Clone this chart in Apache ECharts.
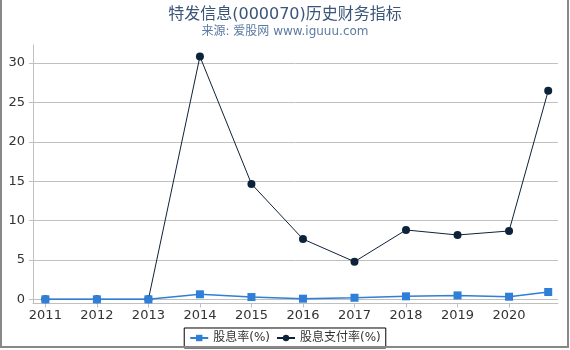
<!DOCTYPE html>
<html>
<head>
<meta charset="utf-8">
<script src="https://cdn.jsdelivr.net/npm/echarts@6/dist/echarts.min.js"></script>
<style>html,body{margin:0;padding:0;background:#fff}#c{width:570px;height:350px}</style>
</head>
<body>
<div id="c"></div>
<script>
var titleText = '特发信息(000070)历史财务指标';
var subText = '来源: 爱股网 www.iguuu.com';
var xValues = [2011, 2012, 2013, 2014, 2015, 2016, 2017, 2018, 2019, 2020, 2020.76];
var xTickLabels = [2011, 2012, 2013, 2014, 2015, 2016, 2017, 2018, 2019, 2020];
var yTickLabels = [0, 5, 10, 15, 20, 25, 30];
var dividendYield = [0, 0, 0, 0.64, 0.29, 0.08, 0.2, 0.38, 0.5, 0.33, 0.93];
var payoutRatio = [0, 0, 0, 30.84, 14.66, 7.65, 4.78, 8.81, 8.17, 8.68, 26.48];
var seriesNames = ['股息率(%)', '股息支付率(%)'];

function pairs(xs, ys) { return xs.map(function (x, i) { return [x, ys[i]]; }); }

var font = 'DejaVu Sans, Noto Sans CJK SC, sans-serif';
var chart = echarts.init(document.getElementById('c'), null, { renderer: 'canvas' });
chart.setOption({
  animation: false,
  backgroundColor: '#ffffff',
  title: [
    { text: titleText, left: 'center', top: 2, textStyle: { fontSize: 16, fontWeight: 'normal', color: '#3b5578', fontFamily: font } },
    { text: subText, left: 'center', top: 21, textStyle: { fontSize: 12, fontWeight: 'normal', color: '#5b7ba3', fontFamily: font } }
  ],
  legend: {
    data: seriesNames,
    left: 'center', bottom: 2,
    borderColor: '#000', borderWidth: 1, borderRadius: 0,
    padding: [4, 5, 4, 5],
    itemWidth: 18, itemHeight: 8, itemGap: 6,
    textStyle: { fontSize: 12, color: '#333', fontFamily: font }
  },
  grid: { left: 33, right: 12, top: 45, bottom: 46.5, containLabel: false },
  xAxis: {
    type: 'value', min: 2010.76, max: 2020.95,
    axisLine: { show: true, onZero: false, lineStyle: { color: '#c0c0c0' } },
    axisTick: { show: true, length: 4, lineStyle: { color: '#c0c0c0' }, customValues: xTickLabels },
    axisLabel: { customValues: xTickLabels, color: '#333', fontSize: 13, fontFamily: font, margin: 6, formatter: function (v) { return String(Math.round(v)); } },
    splitLine: { show: false }
  },
  yAxis: {
    type: 'value', min: -0.53, max: 32.3,
    axisLine: { show: true, lineStyle: { color: '#c0c0c0' } },
    axisTick: { show: true, length: 4, lineStyle: { color: '#c0c0c0' }, customValues: yTickLabels },
    axisLabel: { customValues: yTickLabels, color: '#333', fontSize: 13, fontFamily: font, margin: 8 },
    splitLine: { show: true, lineStyle: { color: '#c0c0c0', width: 1 }, customValues: yTickLabels }
  },
  series: [
    {
      name: seriesNames[1], type: 'line', z: 2,
      data: pairs(xValues, payoutRatio),
      symbol: 'circle', symbolSize: 8,
      itemStyle: { color: '#0d233a' },
      lineStyle: { color: '#0d233a', width: 1 }
    },
    {
      name: seriesNames[0], type: 'line', z: 3,
      data: pairs(xValues, dividendYield),
      symbol: 'rect', symbolSize: 8,
      itemStyle: { color: '#2f7ed8' },
      lineStyle: { color: '#2f7ed8', width: 1.5 }
    }
  ],
  graphic: [
    { type: 'rect', shape: { x: 1, y: -3, width: 567, height: 350 }, style: { fill: 'none', stroke: '#888', lineWidth: 2 }, silent: true, z: 100 }
  ]
});
</script>
</body>
</html>
